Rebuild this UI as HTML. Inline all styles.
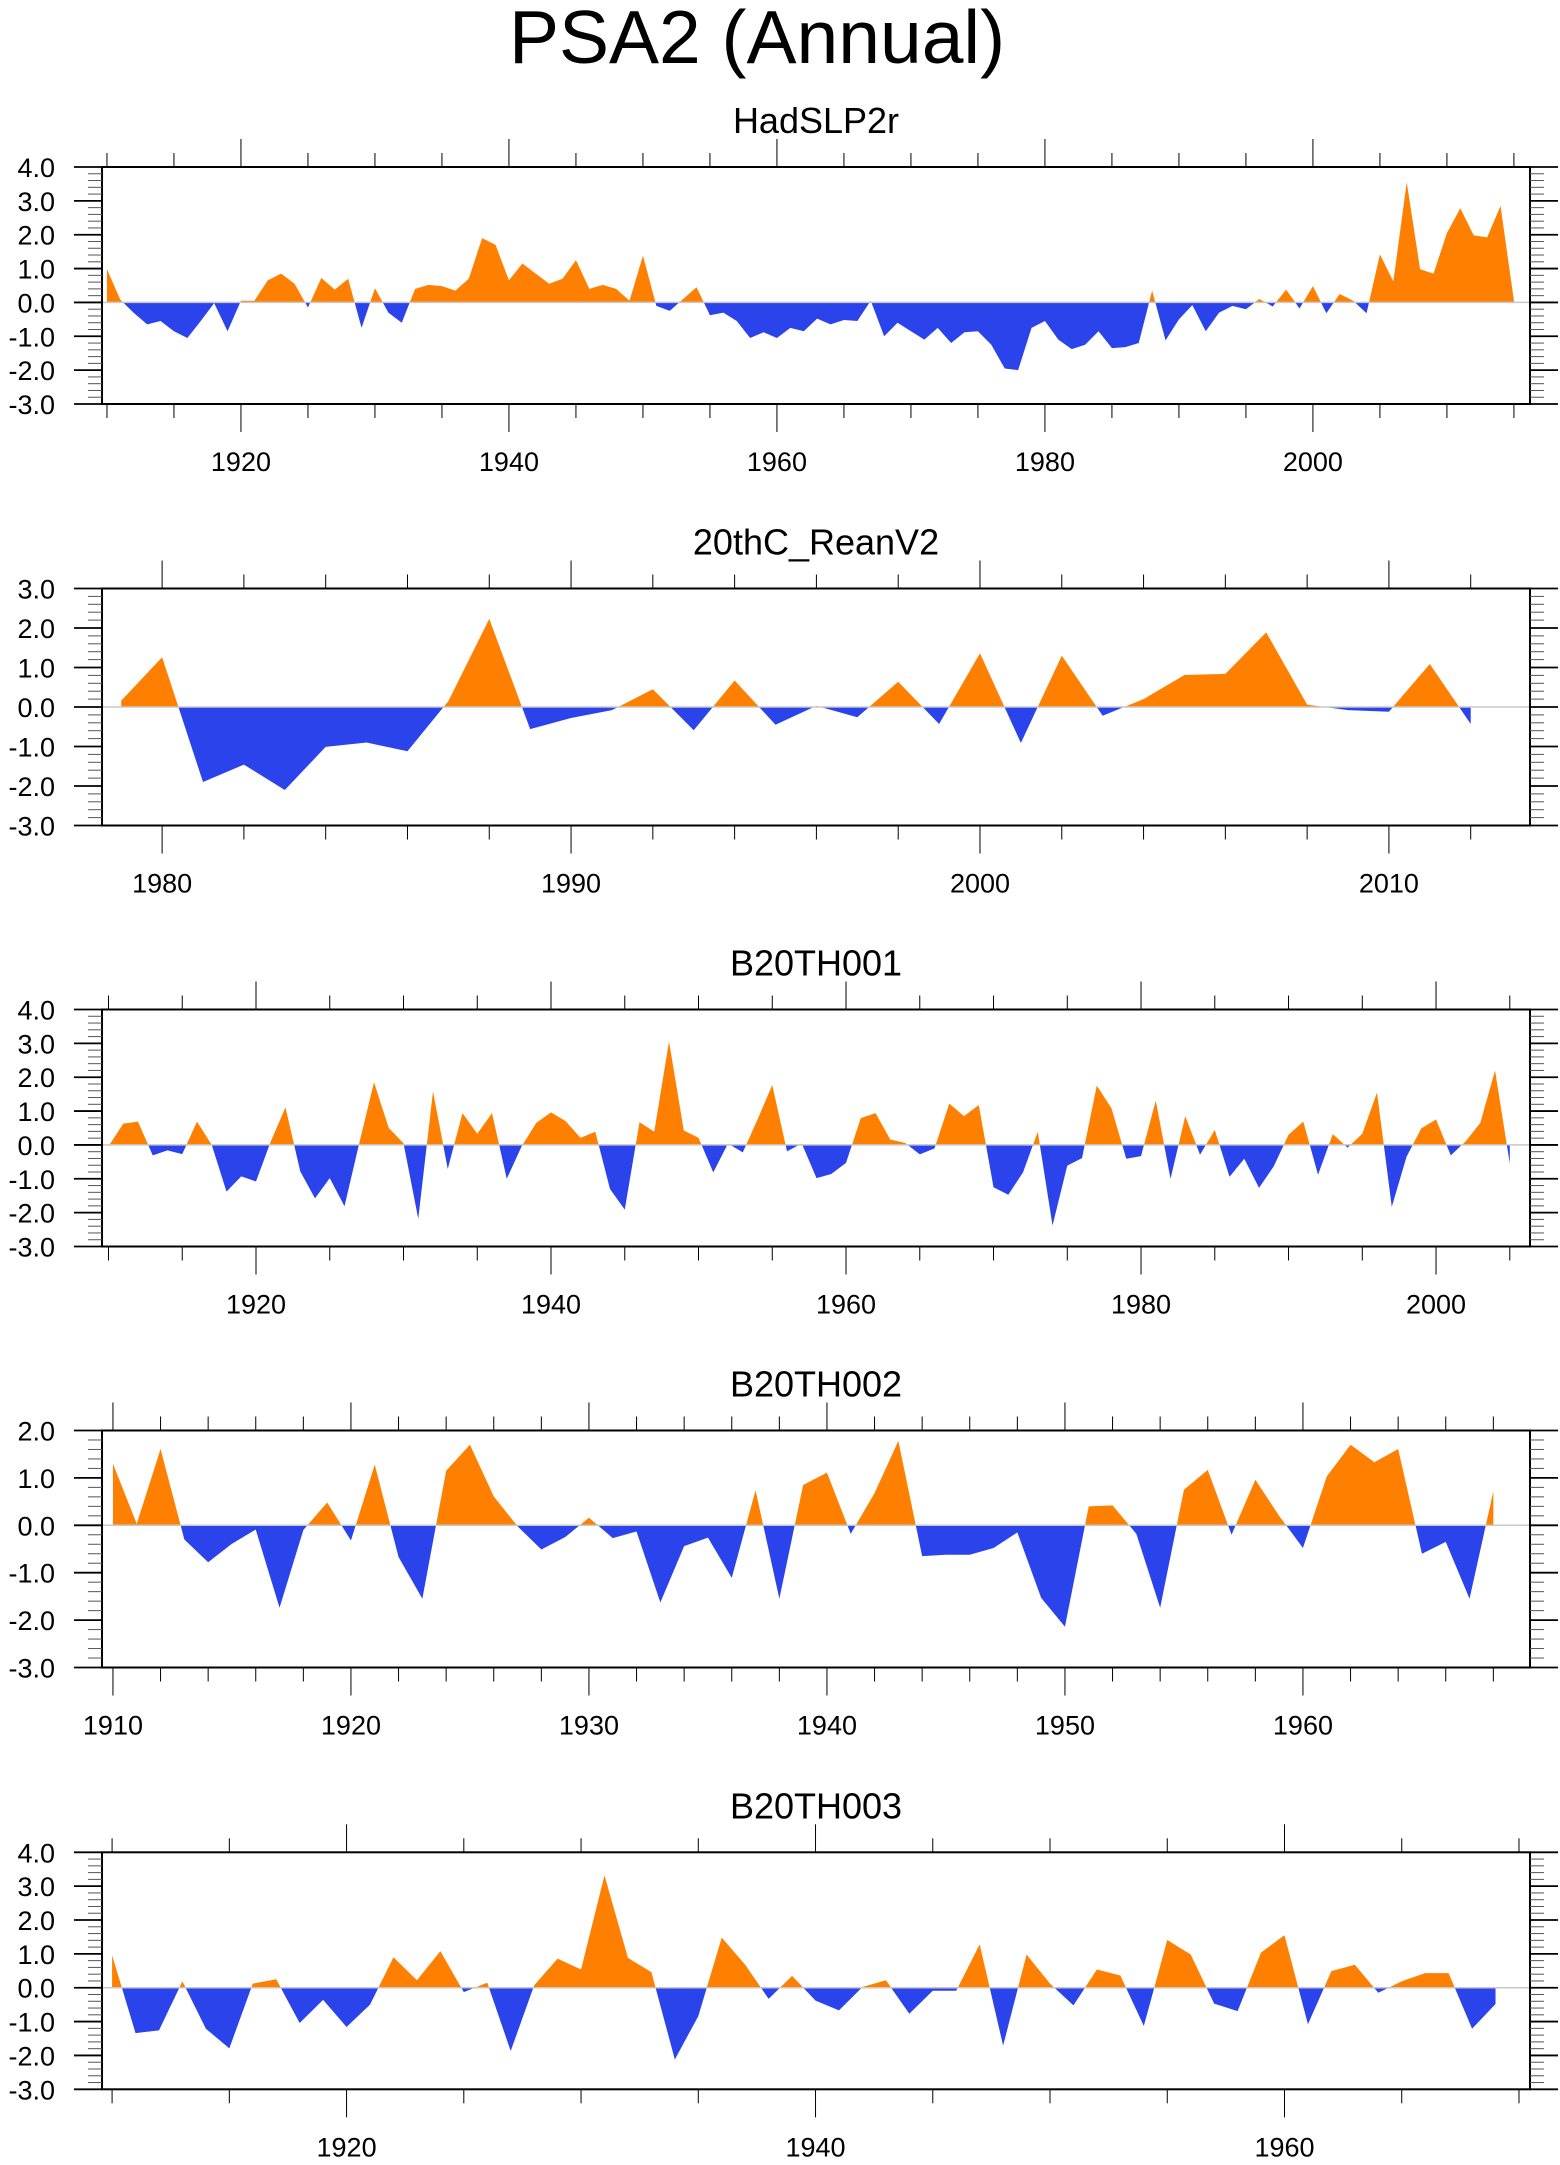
<!DOCTYPE html>
<html><head><meta charset="utf-8"><style>
html,body{margin:0;padding:0;background:#fff;}
svg{display:block;font-family:"Liberation Sans",sans-serif;}
</style></head><body>
<svg id="chart" width="1560" height="2165" viewBox="0 0 1560 2165">
<text x="757" y="63" font-size="75" text-anchor="middle">PSA2 (Annual)</text>
</svg>
<script>
const hadYears0 = 1910;
const hadValues = [0.98,0.08,-0.31,-0.65,-0.55,-0.85,-1.05,-0.55,-0.02,-0.85,0.05,0.05,0.65,0.85,0.55,-0.15,0.72,0.38,0.7,-0.75,0.42,-0.3,-0.6,0.4,0.52,0.48,0.35,0.7,1.9,1.7,0.65,1.15,0.85,0.55,0.7,1.25,0.4,0.52,0.4,0.05,1.38,-0.1,-0.25,0.1,0.45,-0.38,-0.3,-0.55,-1.05,-0.88,-1.05,-0.75,-0.85,-0.48,-0.65,-0.52,-0.55,0.05,-1.0,-0.6,-0.85,-1.1,-0.75,-1.2,-0.88,-0.85,-1.25,-1.95,-2.0,-0.75,-0.55,-1.1,-1.38,-1.25,-0.85,-1.35,-1.32,-1.2,0.35,-1.12,-0.5,-0.08,-0.85,-0.3,-0.1,-0.2,0.1,-0.12,0.38,-0.18,0.48,-0.32,0.25,0.05,-0.32,1.42,0.62,3.55,0.98,0.85,2.05,2.78,1.98,1.92,2.85,0.05];
const reanYears0 = 1979;
const reanValues = [0.16,1.26,-1.9,-1.46,-2.1,-1.01,-0.9,-1.12,0.15,2.23,-0.56,-0.28,-0.08,0.45,-0.59,0.67,-0.45,0.03,-0.26,0.64,-0.43,1.36,-0.91,1.3,-0.22,0.2,0.81,0.84,1.89,0.06,-0.08,-0.12,1.09,-0.43];
const b1Years0 = 1910;
const b1Values = [-0.04,0.63,0.69,-0.31,-0.16,-0.27,0.69,0.0,-1.38,-0.93,-1.08,0.1,1.11,-0.78,-1.58,-0.98,-1.81,0.05,1.85,0.5,0.05,-2.18,1.58,-0.71,0.94,0.33,0.94,-1.0,-0.05,0.65,0.96,0.7,0.21,0.39,-1.3,-1.91,0.67,0.39,3.06,0.43,0.21,-0.81,0.04,-0.22,0.75,1.77,-0.19,0.04,-0.98,-0.86,-0.53,0.79,0.94,0.16,0.06,-0.28,-0.1,1.22,0.85,1.18,-1.25,-1.47,-0.81,0.39,-2.38,-0.61,-0.39,1.75,1.08,-0.41,-0.33,1.31,-1.0,0.85,-0.29,0.44,-0.94,-0.41,-1.27,-0.63,0.3,0.69,-0.88,0.32,-0.08,0.33,1.55,-1.83,-0.35,0.49,0.75,-0.31,0.1,0.65,2.2,-0.55];
const b2Years0 = 1910;
const b2Values = [1.3,0.03,1.61,-0.3,-0.78,-0.39,-0.09,-1.74,-0.1,0.48,-0.32,1.28,-0.67,-1.55,1.15,1.7,0.61,-0.02,-0.51,-0.25,0.16,-0.27,-0.13,-1.63,-0.44,-0.26,-1.11,0.74,-1.55,0.85,1.11,-0.18,0.68,1.78,-0.65,-0.62,-0.62,-0.48,-0.15,-1.53,-2.14,0.4,0.42,-0.18,-1.74,0.75,1.17,-0.2,0.96,0.2,-0.48,1.03,1.7,1.33,1.61,-0.6,-0.35,-1.55,0.72];
const b3Years0 = 1910;
const b3Values = [0.96,-1.34,-1.26,0.19,-1.21,-1.79,0.12,0.25,-1.04,-0.36,-1.16,-0.5,0.9,0.22,1.08,-0.13,0.15,-1.87,0.07,0.86,0.54,3.32,0.88,0.46,-2.12,-0.84,1.48,0.68,-0.33,0.35,-0.38,-0.67,0.02,0.22,-0.77,-0.09,-0.09,1.28,-1.71,0.98,0.12,-0.52,0.54,0.36,-1.13,1.41,0.98,-0.47,-0.69,1.04,1.55,-1.08,0.49,0.68,-0.15,0.19,0.43,0.43,-1.21,-0.48];
const yTicks1 = [4,3,2,1,0,-1,-2,-3];
const yTicks2 = [3,2,1,0,-1,-2,-3];
const yTicks4 = [2,1,0,-1,-2,-3];

const NS = "http://www.w3.org/2000/svg";
const svg = document.getElementById("chart");
const L = 102, R = 1530, BH = 237;

function mk(tag, attrs, parent) {
  const e = document.createElementNS(NS, tag);
  for (const k in attrs) e.setAttribute(k, attrs[k]);
  parent.appendChild(e);
  return e;
}

function panel(cfg) {
  const g = mk("g", {}, svg);
  
  
  const top = cfg.top, bot = top + BH;
  const xs = yr => L + (yr - cfg.xmin) / (cfg.xmax - cfg.xmin) * (R - L);
  const ys = v => bot - (v - cfg.ymin) / (cfg.ymax - cfg.ymin) * BH;
  const t = mk("text", {x: 816, y: top - 34, "font-size": 36, "text-anchor": "middle"}, g);
  t.textContent = cfg.title;
  
  
  const vals = cfg.values, y0 = ys(0);
  let pos = [], neg = [];
  function flush(arr, color, nm) {
    if (arr.length < 2) return;
    let d = "M" + arr[0][0] + "," + y0;
    arr.forEach(p => d += "L" + p[0] + "," + p[1]);
    d += "L" + arr[arr.length - 1][0] + "," + y0 + "Z";
    const p = mk("path", {d: d, fill: color}, g);
    
    
  }
  const segsP = [], segsN = [];
  let curP = [], curN = [];
  for (let i = 0; i < vals.length; i++) {
    const x = xs(cfg.y0 + i), v = vals[i];
    if (i > 0) {
      const pv = vals[i - 1];
      if ((pv > 0 && v < 0) || (pv < 0 && v > 0)) {
        const f = pv / (pv - v);
        const cx = xs(cfg.y0 + i - 1 + f);
        curP.push([cx, y0]); curN.push([cx, y0]);
        if (pv > 0) { segsP.push(curP); curP = [[cx, y0]]; } else { segsN.push(curN); curN = [[cx, y0]]; }
      }
    }
    curP.push([x, ys(Math.max(v, 0))]);
    curN.push([x, ys(Math.min(v, 0))]);
  }
  segsP.push(curP); segsN.push(curN);
  segsP.forEach(s => flush(s, "#ff8000", "positive-anomaly-area"));
  segsN.forEach(s => flush(s, "#2a43eb", "negative-anomaly-area"));
  const zl = mk("line", {x1: L, x2: R, y1: y0, y2: y0, stroke: "#c8c8c8", "stroke-width": 1.5}, g);
  
  
  const box = mk("rect", {x: L, y: top, width: R - L, height: BH, fill: "none", stroke: "#000", "stroke-width": 2}, g);
  
  
  // x ticks
  for (let yr = Math.ceil(cfg.xmin); yr <= cfg.xmax; yr++) {
    const major = yr % cfg.major === 0, minor = yr % cfg.minor === 0;
    if (!major && !minor) continue;
    const x = xs(yr), len = major ? 28 : 14;
    mk("line", {x1: x, x2: x, y1: top, y2: top - len, stroke: "#000", "stroke-width": 1}, g);
    mk("line", {x1: x, x2: x, y1: bot, y2: bot + len, stroke: "#000", "stroke-width": 1}, g);
    if (major) {
      const lb = mk("text", {x: x, y: bot + 67, "font-size": 27, "text-anchor": "middle"}, g);
      lb.textContent = yr;
      
      
    }
  }
  // y ticks
  for (let k = Math.round(cfg.ymin * 5); k <= Math.round(cfg.ymax * 5); k++) {
    const v = k / 5, y = ys(v), major = k % 5 === 0, len = major ? 28 : 14;
    const w = major ? 1.8 : 1;
    mk("line", {x1: L, x2: L - len, y1: y, y2: y, stroke: major ? "#000" : "#555", "stroke-width": w}, g);
    mk("line", {x1: R, x2: R + len, y1: y, y2: y, stroke: major ? "#000" : "#555", "stroke-width": w}, g);
  }
  cfg.yticks.forEach(v => {
    const lb = mk("text", {x: 55, y: ys(v) + 10, "font-size": 27, "text-anchor": "end"}, g);
    lb.textContent = v.toFixed(1);
    
    
  });
}

panel({name: "hadslp2r-panel", title: "HadSLP2r", top: 167, xmin: 1909.63, xmax: 2016.2, ymin: -3, ymax: 4, major: 20, minor: 5, y0: hadYears0, values: hadValues, yticks: yTicks1});
panel({name: "20thc-reanv2-panel", title: "20thC_ReanV2", top: 588.5, xmin: 1978.53, xmax: 2013.45, ymin: -3, ymax: 3, major: 10, minor: 2, y0: reanYears0, values: reanValues, yticks: yTicks2});
panel({name: "b20th001-panel", title: "B20TH001", top: 1009.5, xmin: 1909.56, xmax: 2006.37, ymin: -3, ymax: 4, major: 20, minor: 5, y0: b1Years0, values: b1Values, yticks: yTicks1});
panel({name: "b20th002-panel", title: "B20TH002", top: 1430.5, xmin: 1909.54, xmax: 1969.54, ymin: -3, ymax: 2, major: 10, minor: 2, y0: b2Years0, values: b2Values, yticks: yTicks4});
panel({name: "b20th003-panel", title: "B20TH003", top: 1852.3, xmin: 1909.57, xmax: 1970.47, ymin: -3, ymax: 4, major: 20, minor: 5, y0: b3Years0, values: b3Values, yticks: yTicks1});
</script>
</body></html>
